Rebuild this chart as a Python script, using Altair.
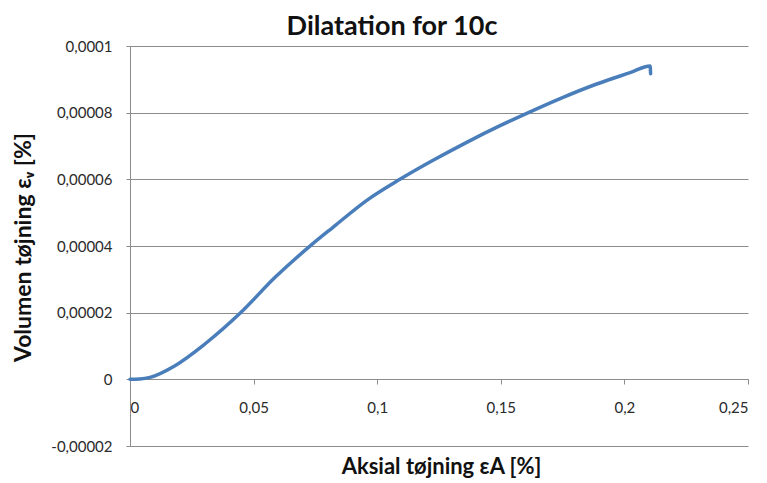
import altair as alt
import pandas as pd

# Axial strain [%] and volumetric strain [%]
axial = [0.0, 0.004, 0.0081, 0.0182, 0.0303, 0.0445, 0.0587, 0.0735, 0.0821,
         0.0958, 0.1092, 0.1226, 0.1362, 0.1497, 0.1605, 0.1752, 0.1888,
         0.2023, 0.2104, 0.2106]
volum = [0.0, 0.0000001, 0.0000006, 0.0000041, 0.0000106, 0.0000198, 0.0000306,
         0.0000404, 0.0000456, 0.0000537, 0.0000600, 0.0000657, 0.0000711,
         0.0000761, 0.0000798, 0.0000846, 0.0000886, 0.0000920, 0.0000940,
         0.0000917]

x_ticks = [0, 0.05, 0.1, 0.15, 0.2, 0.25]
y_ticks = [-0.00002, 0, 0.00002, 0.00004, 0.00006, 0.00008, 0.0001]

df = pd.DataFrame({"axial": axial, "volum": volum, "order": list(range(len(axial)))})

FONT = "Lato"
GRID = "#8c8c8c"
TXT = "#2a2a2a"

line = alt.Chart(df).mark_line(color="#4A7EBB", strokeWidth=3.5, strokeCap="round",
                               strokeJoin="round", interpolate="monotone").encode(
    x=alt.X("axial:Q",
            scale=alt.Scale(domain=[0, 0.25], nice=False, zero=False),
            axis=alt.Axis(values=x_ticks, title="Aksial tøjning εA [%]",
                          labelExpr="replace(toString(datum.value), '.', ',')",
                          offset=-67, grid=False, domainColor=GRID, tickColor=GRID,
                          tickSize=5, labelPadding=16, labelFontSize=15,
                          labelColor=TXT, labelFont=FONT,
                          titleFont=FONT, titleFontSize=22, titleFontWeight="bold",
                          titleColor="#111111", titleY=87, titleX=311,
                          titleBaseline="middle", titleAlign="center")),
    y=alt.Y("volum:Q",
            scale=alt.Scale(domain=[-0.00002, 0.0001], nice=False, zero=False),
            axis=alt.Axis(values=y_ticks, title="Volumen tøjning εᵥ [%]",
                          labelExpr="replace(toString(datum.value), '.', ',')",
                          grid=True, gridColor=GRID, gridWidth=1,
                          domainColor=GRID, tickColor=GRID, tickSize=4,
                          labelPadding=14, labelFontSize=15, labelColor=TXT,
                          labelFont=FONT, titleFont=FONT, titleFontSize=23,
                          titleFontWeight="bold", titleColor="#111111",
                          titleX=-107, titleY=201, titleAngle=270,
                          titleBaseline="middle", titleAlign="center")),
    order="order:Q",
).properties(
    width=618, height=400,
    title=alt.TitleParams("Dilatation for 10c", font=FONT, fontSize=27,
                          fontWeight="bold", color="#111111", anchor="middle",
                          dx=-47, offset=-2),
    autosize=alt.AutoSizeParams(type="none"),
    padding={"left": 122, "top": 38, "right": 10, "bottom": 37},
).configure_view(stroke=None)

chart = line
chart.save("out.html", embed_options={"renderer": "svg", "actions": False})
